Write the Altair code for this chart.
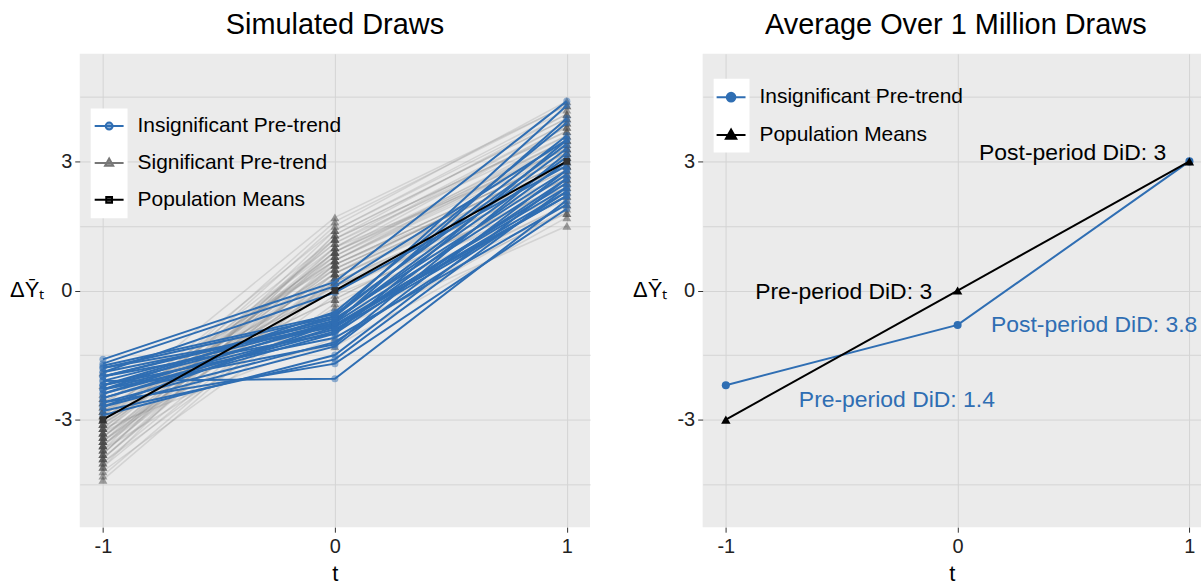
import altair as alt
import pandas as pd

FONT = "Liberation Sans"
BLUE = "#2f6eb3"
PANEL = "#ebebeb"

periods = [-1, 0, 1]

# Draws whose pre-trend test is insignificant: value at t = -1, 0, 1
insig_tm1 = [-1.6, -1.7, -1.9, -1.8, -2.0, -2.1, -1.9, -2.2, -2.3, -2.0, -2.4, -2.5, -2.2, -2.6,
             -2.3, -2.7, -2.8, -2.6, -2.1, -2.4, -2.0, -1.75, -2.9, -2.2, -2.5, -1.8, -2.7, -2.3]
insig_t0 = [0.2, 0.1, -0.05, -0.6, -0.7, -0.75, -0.8, -0.6, -0.9, -1.0, -0.7, -0.85, -1.1, -1.2,
            -0.5, -1.3, -1.6, -1.7, -2.05, -0.95, -0.65, -0.55, -1.5, -0.8, -1.0, -0.85, -0.75, -1.25]
insig_t1 = [4.4, 3.5, 2.9, 4.3, 3.1, 2.7, 2.4, 3.6, 2.2, 2.6, 3.3, 2.5, 2.0, 2.3,
            3.9, 2.8, 2.4, 1.9, 2.1, 3.0, 2.8, 3.4, 2.6, 2.2, 3.5, 2.3, 4.0, 3.2]

# Draws whose pre-trend test is significant
sig_tm1 = [-3.1, -3.4, -2.8, -3.9, -3.6, -2.6, -4.1, -3.3, -3.0, -3.7,
           -2.9, -3.5, -4.4, -3.2, -2.4, -3.8, -3.0, -3.6, -2.7, -4.0,
           -3.3, -3.1, -3.9, -2.5, -3.4, -3.7, -2.8, -4.2, -3.5, -3.0,
           -3.2, -2.9, -3.6, -3.8, -2.6, -3.3, -4.1, -3.0, -3.4, -2.2,
           -3.7, -3.1, -3.9, -2.8, -3.5, -3.2, -4.3, -2.7, -3.6, -3.0,
           -1.9, -3.4, -3.8, -3.1, -2.5, -3.3, -4.0, -2.9, -3.5, -3.2]
sig_t0 = [0.4, 0.9, -0.2, 0.6, 1.2, 0.1, 0.3, 1.5, 0.7, -0.4,
          0.5, 1.0, 0.2, 0.8, -0.6, 1.3, 0.0, 0.6, 1.7, -0.1,
          1.1, 0.4, 0.9, -0.9, 0.3, 1.4, 0.7, -0.3, 0.5, 1.2,
          -1.1, 0.8, 0.2, 1.0, 0.6, -0.5, 1.3, 0.1, 0.9, -1.3,
          0.4, 1.1, 0.7, -0.2, 0.5, 1.6, 0.3, 0.0, 0.8, 1.0,
          -0.7, 0.6, 1.2, 0.2, -0.8, 0.9, 0.4, 1.4, 0.1, 0.7]
sig_t1 = [3.2, 3.8, 2.5, 2.9, 4.1, 2.2, 2.7, 4.4, 3.5, 1.8,
          3.0, 3.9, 2.4, 3.3, 2.0, 4.0, 2.6, 3.1, 4.3, 2.1,
          3.6, 2.8, 3.4, 1.5, 2.9, 4.2, 3.2, 2.3, 3.0, 3.7,
          1.9, 3.5, 2.6, 3.8, 3.1, 2.2, 4.0, 2.7, 3.3, 1.7,
          2.9, 3.9, 3.4, 2.5, 3.0, 4.3, 2.8, 2.4, 3.6, 3.2,
          2.0, 3.1, 3.7, 2.6, 1.8, 3.5, 2.9, 4.1, 2.3, 3.3]

pop_means = [-3.0, 0.0, 3.0]
insig_avg = [-2.2, -0.8, 3.0]

series_left = ["Insignificant Pre-trend", "Significant Pre-trend", "Population Means"]
series_right = ["Insignificant Pre-trend", "Population Means"]

# Annotation anchors (data units) on the averages panel
ann_black_x = [-0.11, 0.90]
ann_black_y = [-0.2, 3.03]
ann_blue_x = [-0.685, 0.144]
ann_blue_y = [-2.7, -0.965]


def long_draws(cols):
    rows = []
    for i, vals in enumerate(zip(*cols)):
        for t, v in zip(periods, vals):
            rows.append({"draw": i, "t": t, "value": v})
    return pd.DataFrame(rows)


def did_text(kind, a, b):
    return f"{kind}-period DiD: {round(b - a, 1):g}"


sig_df = long_draws([sig_tm1, sig_t0, sig_t1])
insig_df = long_draws([insig_tm1, insig_t0, insig_t1])
means_df = pd.DataFrame({"t": periods, "value": pop_means})
avg_df = pd.DataFrame({"t": periods, "value": insig_avg})

black_ann = pd.DataFrame({
    "t": ann_black_x, "value": ann_black_y,
    "label": [did_text("Pre", pop_means[0], pop_means[1]),
              did_text("Post", pop_means[1], pop_means[2])],
})
blue_ann = pd.DataFrame({
    "t": ann_blue_x, "value": ann_blue_y,
    "label": [did_text("Pre", insig_avg[0], insig_avg[1]),
              did_text("Post", insig_avg[1], insig_avg[2])],
})

# Legend key symbols: a horizontal line with a marker in the middle
LINE = "M-1,0H1"
P_CIRCLE_S = LINE + "M-0.24,0A0.24,0.24,0,1,0,0.24,0A0.24,0.24,0,1,0,-0.24,0Z"
P_TRI_S = LINE + "M0,-0.3L0.28,0.2L-0.28,0.2Z"
P_SQUARE_S = LINE + "M-0.2,-0.2H0.2V0.2H-0.2Z"
P_CIRCLE_L = LINE + "M-0.3,0A0.3,0.3,0,1,0,0.3,0A0.3,0.3,0,1,0,-0.3,0Z"
P_TRI_L = LINE + "M0,-0.38L0.36,0.25L-0.36,0.25Z"


def x_enc(domain):
    return alt.X(
        "t:Q",
        scale=alt.Scale(domain=domain, nice=False, zero=False),
        axis=alt.Axis(values=[-1, 0, 1], labelExpr="'' + datum.value", title="t",
                      labelPadding=4, titlePadding=7),
    )


y_enc = alt.Y(
    "value:Q",
    scale=alt.Scale(domain=[-5.5, 5.5], nice=False, zero=False),
    axis=alt.Axis(
        values=[-4.5, -3, -1.5, 0, 1.5, 3, 4.5],
        labelExpr="datum.value % 3 === 0 ? '' + datum.value : ''",
        tickOpacity={"condition": {"test": "datum.value % 3 !== 0", "value": 0}, "value": 1},
        title="\u0394Y\u0304\u209c",
        titleAngle=0, titleAlign="right", titleBaseline="middle",
        titleX=-36, titleY=237,
        labelPadding=3,
    ),
)


def legend(x, y, row_pad):
    return alt.Legend(orient="none", legendX=x, legendY=y, title=None,
                      symbolSize=841, symbolStrokeWidth=2, symbolOpacity=1,
                      labelFontSize=21, labelFont=FONT, labelColor="black", labelLimit=500,
                      labelOffset=13, rowPadding=row_pad, padding=0)


def key_legend(series, shapes, strokes, fills, x, y, row_pad):
    lg = legend(x, y, row_pad)
    return alt.Chart(pd.DataFrame({"series": series})).mark_point(
        filled=True, opacity=0, strokeWidth=2
    ).encode(
        shape=alt.Shape("series:N", scale=alt.Scale(domain=series, range=shapes), legend=lg),
        stroke=alt.Stroke("series:N", scale=alt.Scale(domain=series, range=strokes), legend=lg),
        fill=alt.Fill("series:N", scale=alt.Scale(domain=series, range=fills), legend=lg),
    )


def key_background(x1, x2, y1, y2):
    return alt.Chart(pd.DataFrame({"k": [0]})).mark_rect(color="white").encode(
        x=alt.value(x1), x2=alt.value(x2), y=alt.value(y1), y2=alt.value(y2)
    )


def panel_title(text, dx=0):
    return alt.TitleParams(text, fontSize=29, font=FONT, fontWeight="normal",
                           anchor="middle", baseline="top", offset=14,
                           color="black", dx=dx)


view_bg = alt.ViewBackground(fill=PANEL, stroke=None)

# ---- Left panel: simulated draws ----
xl = x_enc([-1.1, 1.1])

left = alt.layer(
    key_background(11, 48, 55, 165),
    alt.Chart(sig_df).mark_line(color="#8c8c8c", opacity=0.25, strokeWidth=1.5)
    .encode(x=xl, y=y_enc, detail="draw:N"),
    alt.Chart(sig_df).mark_point(shape="triangle-up", filled=True, color="#4a4a4a",
                                 opacity=0.5, size=80)
    .encode(x=xl, y=y_enc),
    alt.Chart(insig_df).mark_line(color=BLUE, strokeWidth=2)
    .encode(x=xl, y=y_enc, detail="draw:N"),
    alt.Chart(insig_df).mark_circle(color=BLUE, opacity=0.5, size=50)
    .encode(x=xl, y=y_enc),
    alt.Chart(means_df).mark_line(color="black", strokeWidth=2)
    .encode(x=xl, y=y_enc),
    alt.Chart(means_df).mark_square(color="#333333", size=45, opacity=1)
    .encode(x=xl, y=y_enc),
    key_legend(series_left, [P_CIRCLE_S, P_TRI_S, P_SQUARE_S],
               [BLUE, "#777777", "black"], ["#8db0d8", "#9a9a9a", "#555555"], 14, 57, 11),
).properties(width=512, height=475, title=panel_title("Simulated Draws"), view=view_bg)

# ---- Right panel: averages over many draws ----
xr = x_enc([-1.1, 1.05])

right = alt.layer(
    key_background(11, 47, 25, 99),
    alt.Chart(avg_df).mark_line(color=BLUE, strokeWidth=2).encode(x=xr, y=y_enc),
    alt.Chart(avg_df).mark_circle(color=BLUE, opacity=1, size=65).encode(x=xr, y=y_enc),
    alt.Chart(means_df).mark_line(color="black", strokeWidth=2).encode(x=xr, y=y_enc),
    alt.Chart(means_df).mark_point(shape="triangle-up", filled=True, color="black",
                                   opacity=1, size=90).encode(x=xr, y=y_enc),
    alt.Chart(black_ann).mark_text(align="right", baseline="alphabetic", fontSize=23,
                                   font=FONT, color="black", clip=True)
    .encode(x=xr, y=y_enc, text="label:N"),
    alt.Chart(blue_ann).mark_text(align="left", baseline="alphabetic", fontSize=23,
                                  font=FONT, color=BLUE, clip=True)
    .encode(x=xr, y=y_enc, text="label:N"),
    key_legend(series_right, [P_CIRCLE_L, P_TRI_L], [BLUE, "black"], [BLUE, "black"],
               13, 28, 12),
).properties(width=500, height=475, title=panel_title("Average Over 1 Million Draws", dx=4),
             view=view_bg)

chart = (
    alt.hconcat(left, right, spacing=42)
    .resolve_scale(x="independent", y="independent", shape="independent",
                   stroke="independent", fill="independent")
    .resolve_legend(shape="independent", stroke="independent", fill="independent")
    .properties(padding={"left": 9, "top": 10, "right": 0, "bottom": 0})
    .configure(font=FONT)
    .configure_view(fill=PANEL, stroke=None)
    .configure_axis(
        labelFont=FONT, labelFontSize=20, labelColor="#222222",
        titleFont=FONT, titleFontSize=22, titleFontWeight="normal", titleColor="black",
        tickColor="#333333", tickSize=5, tickWidth=1,
        domain=False, grid=True, gridColor="#d4d4d4", gridWidth=1,
    )
)

chart.save("out.html", embed_options={"renderer": "svg", "actions": False})
